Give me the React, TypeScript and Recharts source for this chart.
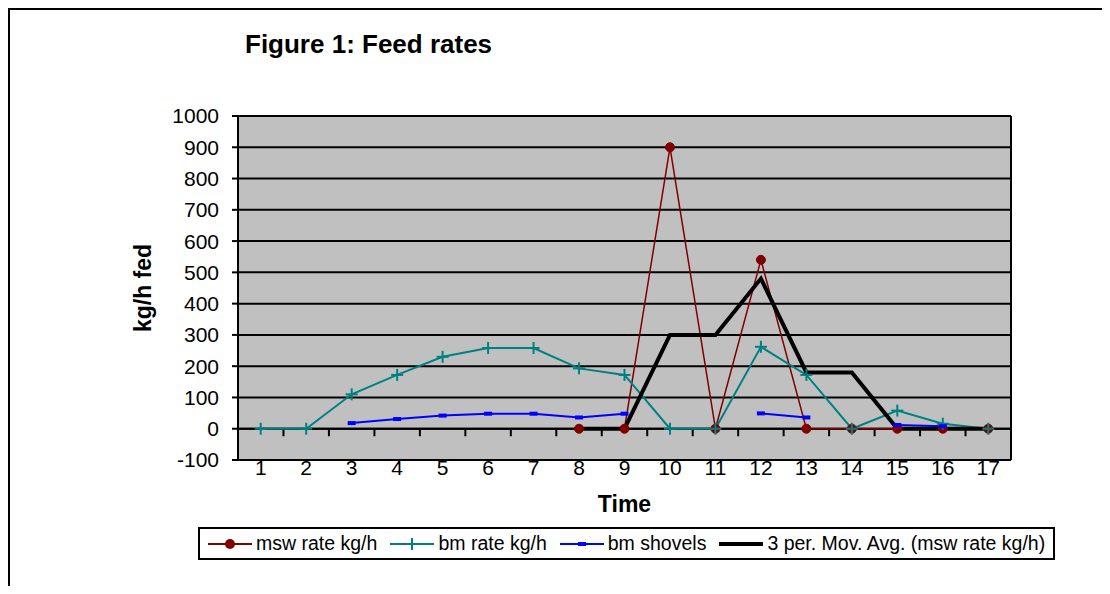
import React from "react";
import { LineChart, Line, XAxis, YAxis, CartesianGrid, ReferenceLine } from "recharts";

const FONT = "Arial, 'Liberation Sans', sans-serif";

const times = [1, 2, 3, 4, 5, 6, 7, 8, 9, 10, 11, 12, 13, 14, 15, 16, 17];
const mswRate = [null, null, null, null, null, null, null, 0, 0, 900, 0, 540, 0, 0, 0, 0, 0];
const bmRate = [0, 0, 110, 172, 230, 258, 258, 193, 172, 0, 0, 262, 172, 0, 58, 16, 0];
const bmShovels = [null, null, 18, 31, 42, 48, 48, 36, 48, null, null, 49, 36, null, 12, 8, null];
const movAvg = [null, null, null, null, null, null, null, 0, 0, 300, 300, 480, 180, 180, 0, 0, 0];
const yTicks = [-100, 0, 100, 200, 300, 400, 500, 600, 700, 800, 900, 1000];

const seriesNames = ["msw rate kg/h", "bm rate kg/h", "bm shovels", "3 per. Mov. Avg. (msw rate kg/h)"];

const data = times.map((t, i) => ({
  t,
  msw: mswRate[i],
  bm: bmRate[i],
  shovels: bmShovels[i],
  avg: movAvg[i],
}));

const boundaries = times.slice(1).map((t) => t - 0.5);

const RED = "#800000";
const TEAL = "#008080";
const BLUE = "#0000FF";

function CircleDot(props: any) {
  const { cx, cy, index } = props;
  if (cx == null || cy == null || props.value == null) return <g key={`c${index}`} />;
  return <circle key={`c${index}`} cx={cx} cy={cy} r={4.5} fill={RED} stroke={RED} />;
}

function PlusDot(props: any) {
  const { cx, cy, index } = props;
  if (cx == null || cy == null || props.value == null) return <g key={`p${index}`} />;
  return (
    <g key={`p${index}`}>
      <line x1={cx - 6} y1={cy} x2={cx + 6} y2={cy} stroke={TEAL} strokeWidth={2} />
      <line x1={cx} y1={cy - 6} x2={cx} y2={cy + 6} stroke={TEAL} strokeWidth={2} />
    </g>
  );
}

function DashDot(props: any) {
  const { cx, cy, index } = props;
  if (cx == null || cy == null || props.value == null) return <g key={`d${index}`} />;
  return <rect key={`d${index}`} x={cx - 4} y={cy - 2} width={8} height={4} fill={BLUE} />;
}

function LegendIcon({ kind }: { kind: number }) {
  return (
    <svg width={44} height={16} style={{ display: "block" }}>
      {kind === 0 && (
        <>
          <line x1={0} y1={8} x2={44} y2={8} stroke={RED} strokeWidth={2} />
          <circle cx={22} cy={8} r={5} fill={RED} />
        </>
      )}
      {kind === 1 && (
        <>
          <line x1={0} y1={8} x2={44} y2={8} stroke={TEAL} strokeWidth={2} />
          <line x1={22} y1={2} x2={22} y2={14} stroke={TEAL} strokeWidth={2} />
        </>
      )}
      {kind === 2 && (
        <>
          <line x1={0} y1={8} x2={44} y2={8} stroke={BLUE} strokeWidth={2} />
          <rect x={18} y={6} width={8} height={4} fill={BLUE} />
        </>
      )}
      {kind === 3 && <line x1={0} y1={8} x2={44} y2={8} stroke="#000" strokeWidth={4} />}
    </svg>
  );
}

export default function App() {
  return (
    <div
      style={{
        position: "relative",
        width: 1100,
        height: 576,
        borderTop: "2px solid #000",
        borderLeft: "2px solid #000",
        fontFamily: FONT,
        background: "#fff",
      }}
    >
      <div
        style={{
          position: "absolute",
          left: 235,
          top: 19,
          fontSize: 26,
          fontWeight: "bold",
          lineHeight: "30px",
          whiteSpace: "nowrap",
        }}
      >
        Figure 1: Feed rates
      </div>

      <div style={{ position: "absolute", left: 0, top: 0 }}>
        <LineChart
          width={1090}
          height={575}
          data={data}
          margin={{ top: 106, right: 89, bottom: 0, left: 0 }}
        >
          <CartesianGrid vertical={false} stroke="#000" strokeWidth={2} fill="#C0C0C0" fillOpacity={1} />
          <XAxis
            dataKey="t"
            type="number"
            domain={[0.5, 17.5]}
            ticks={times}
            interval={0}
            height={125}
            axisLine={false}
            tickLine={false}
            tickSize={0}
            tickMargin={0}
            tick={(p: any) => (
              <text x={p.x} y={p.y} dy={15} textAnchor="middle" fontSize={21} fontFamily={FONT} fill="#000">
                {p.payload.value}
              </text>
            )}
            label={(p: any) => {
              const vb = p.viewBox;
              return (
                <text
                  x={vb.x + vb.width / 2}
                  y={vb.y + 52}
                  textAnchor="middle"
                  fontSize={23}
                  fontWeight="bold"
                  fontFamily={FONT}
                  fill="#000"
                >
                  Time
                </text>
              );
            }}
          />
          <YAxis
            type="number"
            domain={[-100, 1000]}
            ticks={yTicks}
            interval={0}
            width={228}
            axisLine={{ stroke: "#000", strokeWidth: 2 }}
            tickLine={{ stroke: "#000", strokeWidth: 2 }}
            tickSize={6}
            tickMargin={13}
            tick={{ fill: "#000", fontSize: 21, fontFamily: FONT }}
            label={(p: any) => {
              const vb = p.viewBox;
              const cx = 133;
              const cy = vb.y + vb.height / 2;
              return (
                <text
                  x={cx}
                  y={cy}
                  transform={`rotate(-90, ${cx}, ${cy})`}
                  textAnchor="middle"
                  dominantBaseline="central"
                  fontSize={23}
                  fontWeight="bold"
                  fontFamily={FONT}
                  fill="#000"
                >
                  kg/h fed
                </text>
              );
            }}
          />
          <ReferenceLine y={0} stroke="#000" strokeWidth={2} />
          <ReferenceLine x={17.5} stroke="#000" strokeWidth={2} />
          {boundaries.map((b) => (
            <ReferenceLine
              key={b}
              segment={[
                { x: b, y: 0 },
                { x: b, y: -24 },
              ]}
              stroke="#000"
              strokeWidth={2}
            />
          ))}
          <Line
            dataKey="msw"
            name={seriesNames[0]}
            stroke={RED}
            strokeWidth={1.5}
            dot={CircleDot}
            activeDot={false}
            isAnimationActive={false}
          />
          <Line
            dataKey="bm"
            name={seriesNames[1]}
            stroke={TEAL}
            strokeWidth={2}
            dot={PlusDot}
            activeDot={false}
            isAnimationActive={false}
          />
          <Line
            dataKey="shovels"
            name={seriesNames[2]}
            stroke={BLUE}
            strokeWidth={2}
            dot={DashDot}
            activeDot={false}
            isAnimationActive={false}
          />
          <Line
            dataKey="avg"
            name={seriesNames[3]}
            stroke="#000"
            strokeWidth={4}
            dot={false}
            activeDot={false}
            isAnimationActive={false}
          />
        </LineChart>
      </div>

      <div
        style={{
          position: "absolute",
          left: 188,
          top: 517,
          width: 857,
          height: 33,
          boxSizing: "border-box",
          border: "2px solid #000",
          display: "flex",
          alignItems: "center",
          paddingLeft: 8,
          fontSize: 19.5,
          whiteSpace: "nowrap",
        }}
      >
        {seriesNames.map((n, i) => (
          <div key={n} style={{ display: "flex", alignItems: "center", marginRight: 13 }}>
            <LegendIcon kind={i} />
            <span style={{ marginLeft: 4 }}>{n}</span>
          </div>
        ))}
      </div>
    </div>
  );
}
